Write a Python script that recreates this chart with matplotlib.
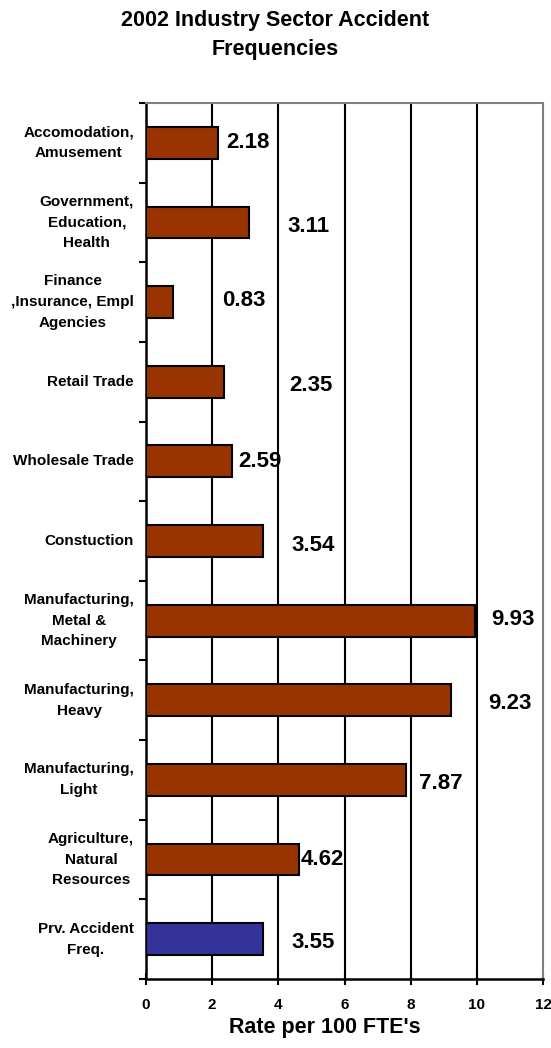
import matplotlib
matplotlib.use("Agg")
import matplotlib.pyplot as plt
import matplotlib.transforms as mtransforms

plt.rcParams['font.family'] = ['Liberation Sans', 'DejaVu Sans']
plt.rcParams['font.weight'] = 'bold'

# data, top to bottom
sectors = [
    "Accomodation,\nAmusement",
    "Government,\nEducation,\nHealth",
    "Finance\n,Insurance, Empl\nAgencies",
    "Retail Trade",
    "Wholesale Trade",
    "Constuction",
    "Manufacturing,\nMetal &\nMachinery",
    "Manufacturing,\nHeavy",
    "Manufacturing,\nLight",
    "Agriculture,\nNatural\nResources",
    "Prv. Accident\nFreq.",
]
rates = [2.18, 3.11, 0.83, 2.35, 2.59, 3.54, 9.93, 9.23, 7.87, 4.62, 3.55]
bar_colors = ["#993300"] * 10 + ["#333399"]
x_ticks = [0, 2, 4, 6, 8, 10, 12]

# where each value label starts (data x) and its small vertical nudge
label_x = [2.42, 4.29, 2.30, 4.32, 2.78, 4.41, 10.43, 10.34, 8.25, 4.66, 4.41]
label_dy = [0.0, 0.05, -0.02, 0.05, 0.0, 0.06, -0.02, 0.04, 0.04, 0.0, 0.04]

fig = plt.figure(figsize=(5.51, 10.48), dpi=100)
ax = fig.add_axes([146 / 551, 1 - 979 / 1048, 397 / 551, 876 / 1048])

ypos = list(range(len(sectors)))
ax.barh(ypos, rates, height=0.4, color=bar_colors, edgecolor="black",
        linewidth=1.5, zorder=3)

for y, v, lx, dy in zip(ypos, rates, label_x, label_dy):
    ax.text(lx, y + dy, f"{v:.2f}", ha="left", va="center",
            fontsize=16, fontweight="bold", zorder=4)

ax.set_xlim(0, 12)
ax.set_ylim(len(sectors) - 0.5, -0.5)

# vertical grid lines
for gx in x_ticks[1:-1]:
    ax.axvline(gx, color="black", lw=1.5, zorder=1)

ax.set_xticks(x_ticks)
ax.set_xticklabels([str(t) for t in x_ticks], fontsize=11, fontweight="bold")
ax.tick_params(axis="x", direction="inout", length=8, width=1.5, pad=10)

# y ticks at category boundaries, labels drawn separately
ax.set_yticks([i - 0.5 for i in range(len(sectors) + 1)])
ax.set_yticklabels([])
ax.tick_params(axis="y", direction="out", length=5, width=1.5)

trans = mtransforms.blended_transform_factory(fig.transFigure, ax.transData)
for y, name in zip(ypos, sectors):
    ax.text(134 / 551, y, name, transform=trans, ha="right", va="center",
            multialignment="center", fontsize=11, fontweight="bold",
            linespacing=1.62)

for side in ("left", "bottom"):
    ax.spines[side].set_color("black")
    ax.spines[side].set_linewidth(1.8)
for side in ("top", "right"):
    ax.spines[side].set_color("#808080")
    ax.spines[side].set_linewidth(1.5)

fig.text(0.5, 1 - 35 / 1048, "2002 Industry Sector Accident\nFrequencies",
         ha="center", va="center", fontsize=15.5, fontweight="bold",
         linespacing=1.55)
fig.text(325 / 551, 1 - 1028 / 1048, "Rate per 100 FTE's", ha="center",
         va="center", fontsize=15.5, fontweight="bold")

fig.savefig("out.png", dpi=100)
